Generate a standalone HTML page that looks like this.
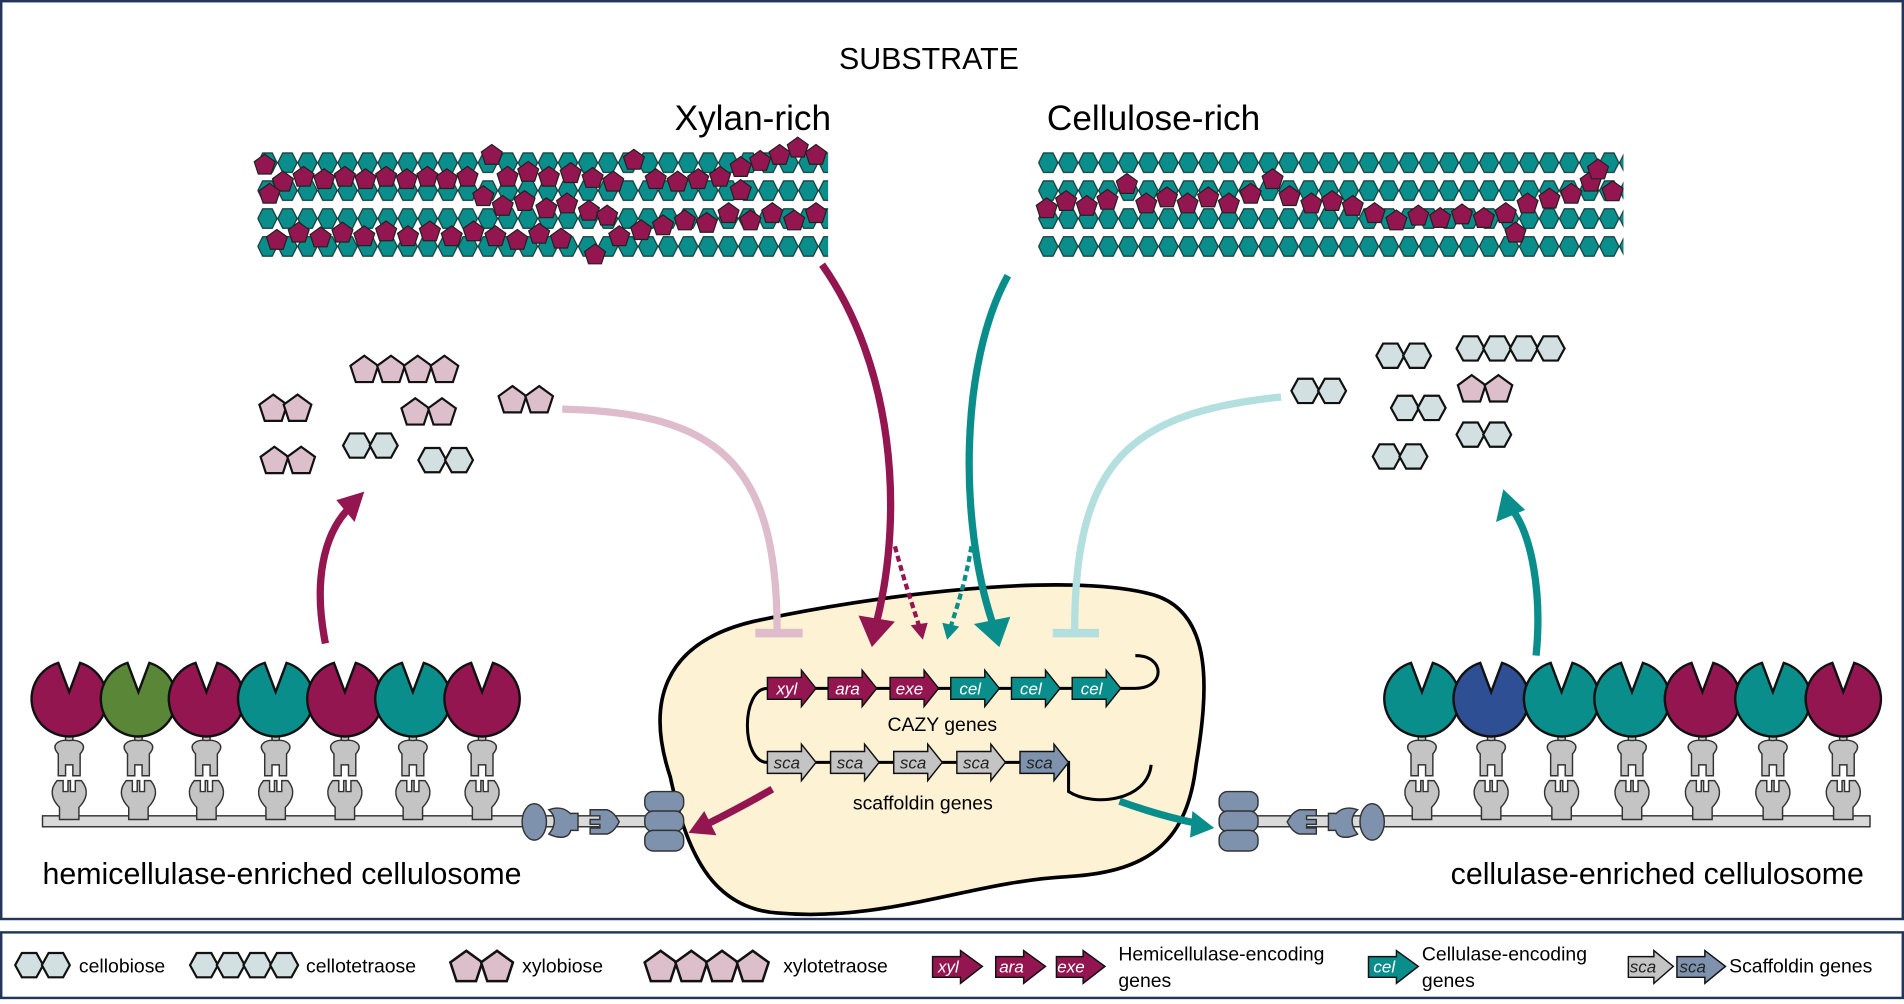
<!DOCTYPE html>
<html><head><meta charset="utf-8"><style>html,body{margin:0;padding:0;background:#fff}svg{display:block}</style></head><body>
<svg width="1904" height="1004" viewBox="0 0 1568 827" preserveAspectRatio="none" xmlns="http://www.w3.org/2000/svg" font-family="Liberation Sans, sans-serif">
<defs>
<pattern id="hx" width="16.5" height="23" patternUnits="userSpaceOnUse" x="212" y="122.5">
<polygon points="0.3,11.5 4.3,3.5 12.2,3.5 16.2,11.5 12.2,19.5 4.3,19.5" fill="#0a8e8c" stroke="#163838" stroke-width="1"/>
</pattern>
<pattern id="hx2" width="16.5" height="23" patternUnits="userSpaceOnUse" x="855" y="122.5">
<polygon points="0.3,11.5 4.3,3.5 12.2,3.5 16.2,11.5 12.2,19.5 4.3,19.5" fill="#0a8e8c" stroke="#163838" stroke-width="1"/>
</pattern>
<polygon id="p" points="0,-9 8.6,-2.8 5.3,7.3 -5.3,7.3 -8.6,-2.8" fill="#931650" stroke="#222" stroke-width="1"/>
<polygon id="lh" points="-11.5,0 -6,-10 6,-10 11.5,0 6,10 -6,10" fill="#d2e0e2" stroke="#111" stroke-width="1.8"/>
<polygon id="lp" points="0,-12 11.4,-3.7 7,9.7 -7,9.7 -11.4,-3.7" fill="#dcbfca" stroke="#111" stroke-width="1.8"/>
<g id="gm">
<rect x="-3" y="0" width="6" height="12" fill="#c4c4c4" stroke="#333" stroke-width="1.2"/>
<path d="M-9,18 C-16,10 -8,6 0,7 C8,6 16,10 9,18 L9,36 L3,36 L3,27 L-3,27 L-3,36 L-9,36 Z" fill="#c4c4c4" stroke="#333" stroke-width="1.2"/>
<path d="M-10,40 L-5,40 L-5,49 L-1,49 L-1,40 L1,40 L1,49 L5,49 L5,40 L10,40 C17,48 14,56 8,62 L8,72 L-8,72 L-8,62 C-14,56 -17,48 -10,40 Z" fill="#c4c4c4" stroke="#333" stroke-width="1.2"/>
</g>
<g id="anc">
<rect x="-16" y="-25" width="32" height="17" rx="7" fill="#7e92ae" stroke="#333" stroke-width="1.2"/>
<rect x="-16" y="-9" width="32" height="17" rx="7" fill="#7e92ae" stroke="#333" stroke-width="1.2"/>
<rect x="-16" y="7" width="32" height="17" rx="7" fill="#7e92ae" stroke="#333" stroke-width="1.2"/>
</g>
</defs>
<rect x="1" y="1" width="1566" height="756" fill="#fff" stroke="#23355a" stroke-width="2"/>
<rect x="1" y="768" width="1566" height="54" fill="#fff" stroke="#23355a" stroke-width="2"/>

<text x="765" y="57" font-size="25" text-anchor="middle">SUBSTRATE</text>
<text x="620" y="107" font-size="29" text-anchor="middle">Xylan-rich</text>
<text x="950" y="107" font-size="29" text-anchor="middle">Cellulose-rich</text>

<rect x="212" y="123" width="470" height="92" fill="url(#hx)"/>
<rect x="855" y="123" width="482" height="92" fill="url(#hx2)"/>
<g>
<use href="#p" x="218" y="136"/><use href="#p" x="233" y="150"/><use href="#p" x="250" y="146"/><use href="#p" x="267" y="148"/><use href="#p" x="284" y="146"/><use href="#p" x="301" y="148"/><use href="#p" x="318" y="146"/><use href="#p" x="335" y="148"/><use href="#p" x="352" y="146"/><use href="#p" x="368" y="148"/><use href="#p" x="385" y="146"/><use href="#p" x="405" y="128"/><use href="#p" x="418" y="146"/><use href="#p" x="435" y="142"/><use href="#p" x="452" y="146"/><use href="#p" x="470" y="143"/><use href="#p" x="488" y="147"/><use href="#p" x="505" y="150"/><use href="#p" x="522" y="132"/><use href="#p" x="540" y="148"/><use href="#p" x="558" y="150"/><use href="#p" x="575" y="148"/><use href="#p" x="593" y="146"/><use href="#p" x="610" y="138"/><use href="#p" x="626" y="133"/><use href="#p" x="642" y="128"/><use href="#p" x="657" y="122"/><use href="#p" x="672" y="128"/><use href="#p" x="610" y="157"/>
<use href="#p" x="222" y="160"/><use href="#p" x="398" y="162"/><use href="#p" x="414" y="170"/><use href="#p" x="432" y="166"/><use href="#p" x="450" y="172"/><use href="#p" x="467" y="168"/><use href="#p" x="485" y="174"/><use href="#p" x="500" y="178"/><use href="#p" x="490" y="210"/><use href="#p" x="510" y="195"/>
<use href="#p" x="228" y="198"/><use href="#p" x="246" y="192"/><use href="#p" x="264" y="196"/><use href="#p" x="282" y="192"/><use href="#p" x="300" y="195"/><use href="#p" x="318" y="191"/><use href="#p" x="336" y="195"/><use href="#p" x="354" y="191"/><use href="#p" x="372" y="195"/><use href="#p" x="390" y="191"/><use href="#p" x="408" y="195"/><use href="#p" x="426" y="198"/><use href="#p" x="444" y="193"/><use href="#p" x="462" y="197"/><use href="#p" x="528" y="190"/><use href="#p" x="546" y="186"/><use href="#p" x="564" y="182"/><use href="#p" x="582" y="184"/><use href="#p" x="600" y="176"/><use href="#p" x="618" y="182"/><use href="#p" x="636" y="176"/><use href="#p" x="654" y="182"/><use href="#p" x="672" y="176"/>
</g>
<g>
<use href="#p" x="862" y="172"/><use href="#p" x="878" y="166"/><use href="#p" x="895" y="170"/><use href="#p" x="912" y="165"/><use href="#p" x="928" y="152"/><use href="#p" x="944" y="168"/><use href="#p" x="961" y="163"/><use href="#p" x="978" y="168"/><use href="#p" x="995" y="163"/><use href="#p" x="1012" y="168"/><use href="#p" x="1030" y="160"/><use href="#p" x="1048" y="148"/><use href="#p" x="1062" y="162"/><use href="#p" x="1080" y="168"/><use href="#p" x="1097" y="166"/><use href="#p" x="1114" y="170"/><use href="#p" x="1132" y="176"/><use href="#p" x="1150" y="182"/><use href="#p" x="1168" y="178"/><use href="#p" x="1186" y="180"/><use href="#p" x="1204" y="177"/><use href="#p" x="1222" y="180"/><use href="#p" x="1240" y="176"/><use href="#p" x="1248" y="192"/><use href="#p" x="1258" y="168"/><use href="#p" x="1276" y="164"/><use href="#p" x="1294" y="160"/><use href="#p" x="1310" y="150"/><use href="#p" x="1328" y="158"/><use href="#p" x="1316" y="140"/>
</g>

<path d="M552,640 C532,580 545,530 620,512 C720,490 880,470 950,490 C1000,505 995,570 985,630 C978,690 950,718 880,722 C800,726 730,760 640,752 C585,748 565,700 552,640 Z" fill="#fdf2d4" stroke="#000" stroke-width="3"/>

<path d="M463,337 C590,340 640,380 640,520" fill="none" stroke="#dfbccb" stroke-width="6"/>
<rect x="622" y="518" width="39" height="7" fill="#dfbccb"/>
<path d="M1055,327 C930,340 885,380 885,520" fill="none" stroke="#b3e0de" stroke-width="6"/>
<rect x="867" y="518" width="38" height="7" fill="#b3e0de"/>

<path d="M677,218 C735,300 745,420 722,512" fill="none" stroke="#931650" stroke-width="6"/>
<polygon points="707,507 737,512 718,533" fill="#931650"/>
<path d="M737,450 C745,480 752,500 757,516" fill="none" stroke="#931650" stroke-width="3.5" stroke-dasharray="5,3"/>
<polygon points="750,515 764,513 760,527" fill="#931650"/>
<path d="M830,227 C790,300 790,430 817,512" fill="none" stroke="#0a8e8c" stroke-width="6"/>
<polygon points="802,514 832,508 823,533" fill="#0a8e8c"/>
<path d="M800,450 C795,480 788,500 783,516" fill="none" stroke="#0a8e8c" stroke-width="3.5" stroke-dasharray="5,3"/>
<polygon points="776,513 790,516 780,527" fill="#0a8e8c"/>

<path d="M268,530 C258,480 266,440 288,418" fill="none" stroke="#931650" stroke-width="6"/>
<polygon points="277,412 300,405 292,430" fill="#931650"/>
<path d="M1265,540 C1270,490 1262,440 1244,418" fill="none" stroke="#0a8e8c" stroke-width="6"/>
<polygon points="1232,430 1238,403 1256,420" fill="#0a8e8c"/>
<path d="M636,650 C610,665 590,675 580,680" fill="none" stroke="#931650" stroke-width="6"/>
<polygon points="567,686 580,668 590,688" fill="#931650"/>
<path d="M922,660 C950,670 970,675 985,678" fill="none" stroke="#0a8e8c" stroke-width="6"/>
<polygon points="1000,682 982,668 980,690" fill="#0a8e8c"/>

<path d="M632,567 L935,567 C960,567 960,540 935,540" fill="none" stroke="#000" stroke-width="2.5"/>
<path d="M632,567 C610,567 610,628 632,628 L880,628 L880,652 C900,665 945,660 948,630" fill="none" stroke="#000" stroke-width="2.5"/>
<g font-style="italic" font-size="14" text-anchor="middle">
<g fill="#931650" stroke="#111" stroke-width="1.2">
<polygon points="632,558 660,558 660,552 672,567 660,582 660,576 632,576"/>
<polygon points="682,558 710,558 710,552 722,567 710,582 710,576 682,576"/>
<polygon points="733,558 761,558 761,552 773,567 761,582 761,576 733,576"/>
</g>
<g fill="#0a8e8c" stroke="#111" stroke-width="1.2">
<polygon points="783,558 811,558 811,552 823,567 811,582 811,576 783,576"/>
<polygon points="833,558 861,558 861,552 873,567 861,582 861,576 833,576"/>
<polygon points="883,558 911,558 911,552 923,567 911,582 911,576 883,576"/>
</g>
<g fill="#fff"><text x="648" y="572">xyl</text><text x="698" y="572">ara</text><text x="749" y="572">exe</text><text x="799" y="572">cel</text><text x="849" y="572">cel</text><text x="899" y="572">cel</text></g>
<g fill="#c4c4c4" stroke="#111" stroke-width="1.2">
<polygon points="632,619 660,619 660,613 672,628 660,643 660,637 632,637"/>
<polygon points="684,619 712,619 712,613 724,628 712,643 712,637 684,637"/>
<polygon points="736,619 764,619 764,613 776,628 764,643 764,637 736,637"/>
<polygon points="788,619 816,619 816,613 828,628 816,643 816,637 788,637"/>
</g>
<polygon points="840,619 868,619 868,613 880,628 868,643 868,637 840,637" fill="#7e92ae" stroke="#111" stroke-width="1.2"/>
<g fill="#222"><text x="648" y="633">sca</text><text x="700" y="633">sca</text><text x="752" y="633">sca</text><text x="804" y="633">sca</text><text x="856" y="633">sca</text></g>
</g>
<text x="776" y="602" font-size="16" text-anchor="middle">CAZY genes</text>
<text x="760" y="667" font-size="16" text-anchor="middle">scaffoldin genes</text>

<rect x="35" y="672" width="505" height="9" fill="#dadada" stroke="#333" stroke-width="1.2"/>
<g transform="translate(0,603)">
<use href="#gm" x="57"/><use href="#gm" x="114"/><use href="#gm" x="170"/><use href="#gm" x="227"/><use href="#gm" x="284"/><use href="#gm" x="340"/><use href="#gm" x="397"/>
</g>
<g stroke="#111" stroke-width="2">
<path d="M66,546 A31,31 0 1 1 48,546 L57,570 Z" fill="#931650"/>
<path d="M123,546 A31,31 0 1 1 105,546 L114,570 Z" fill="#5a8638"/>
<path d="M179,546 A31,31 0 1 1 161,546 L170,570 Z" fill="#931650"/>
<path d="M236,546 A31,31 0 1 1 218,546 L227,570 Z" fill="#0a8e8c"/>
<path d="M293,546 A31,31 0 1 1 275,546 L284,570 Z" fill="#931650"/>
<path d="M349,546 A31,31 0 1 1 331,546 L340,570 Z" fill="#0a8e8c"/>
<path d="M406,546 A31,31 0 1 1 388,546 L397,570 Z" fill="#931650"/>
</g>
<g fill="#7e92ae" stroke="#333" stroke-width="1.2">
<ellipse cx="440" cy="677" rx="10" ry="15"/>
<path d="M452,667 C466,662 470,672 470,670 L476,670 L476,684 L470,684 C468,692 458,690 452,687 C458,680 458,672 452,667 Z"/>
<path d="M500,667 L486,667 L486,672 L494,672 L494,675 L486,675 L486,679 L494,679 L494,682 L486,682 L486,687 L500,687 C506,685 508,680 510,677 C508,674 506,669 500,667 Z"/>
</g>
<use href="#anc" x="547" y="677"/>
<text x="35" y="728" font-size="25">hemicellulase-enriched cellulosome</text>

<rect x="1030" y="672" width="510" height="9" fill="#dadada" stroke="#333" stroke-width="1.2"/>
<g transform="translate(0,603)">
<use href="#gm" x="1171"/><use href="#gm" x="1228"/><use href="#gm" x="1286"/><use href="#gm" x="1344"/><use href="#gm" x="1402"/><use href="#gm" x="1460"/><use href="#gm" x="1518"/>
</g>
<g stroke="#111" stroke-width="2">
<path d="M1180,546 A31,31 0 1 1 1162,546 L1171,570 Z" fill="#0a8e8c"/>
<path d="M1237,546 A31,31 0 1 1 1219,546 L1228,570 Z" fill="#2e4f94"/>
<path d="M1295,546 A31,31 0 1 1 1277,546 L1286,570 Z" fill="#0a8e8c"/>
<path d="M1353,546 A31,31 0 1 1 1335,546 L1344,570 Z" fill="#0a8e8c"/>
<path d="M1411,546 A31,31 0 1 1 1393,546 L1402,570 Z" fill="#931650"/>
<path d="M1469,546 A31,31 0 1 1 1451,546 L1460,570 Z" fill="#0a8e8c"/>
<path d="M1527,546 A31,31 0 1 1 1509,546 L1518,570 Z" fill="#931650"/>
</g>
<g fill="#7e92ae" stroke="#333" stroke-width="1.2" transform="translate(1570,0) scale(-1,1)">
<ellipse cx="440" cy="677" rx="10" ry="15"/>
<path d="M452,667 C466,662 470,672 470,670 L476,670 L476,684 L470,684 C468,692 458,690 452,687 C458,680 458,672 452,667 Z"/>
<path d="M500,667 L486,667 L486,672 L494,672 L494,675 L486,675 L486,679 L494,679 L494,682 L486,682 L486,687 L500,687 C506,685 508,680 510,677 C508,674 506,669 500,667 Z"/>
</g>
<use href="#anc" x="1020" y="677"/>
<text x="1535" y="728" font-size="25" text-anchor="end">cellulase-enriched cellulosome</text>

<use href="#lp" x="225" y="337"/><use href="#lp" x="245" y="337"/>
<use href="#lp" x="300" y="305"/><use href="#lp" x="322" y="305"/><use href="#lp" x="344" y="305"/><use href="#lp" x="366" y="305"/>
<use href="#lp" x="342" y="340"/><use href="#lp" x="364" y="340"/>
<use href="#lp" x="422" y="330"/><use href="#lp" x="444" y="330"/>
<use href="#lp" x="226" y="380"/><use href="#lp" x="248" y="380"/>
<use href="#lh" x="294" y="367"/><use href="#lh" x="316" y="367"/>
<use href="#lh" x="356" y="379"/><use href="#lh" x="378" y="379"/>
<use href="#lh" x="1075" y="322"/><use href="#lh" x="1097" y="322"/>
<use href="#lh" x="1145" y="293"/><use href="#lh" x="1167" y="293"/>
<use href="#lh" x="1211" y="287"/><use href="#lh" x="1233" y="287"/><use href="#lh" x="1255" y="287"/><use href="#lh" x="1277" y="287"/>
<use href="#lh" x="1157" y="336"/><use href="#lh" x="1179" y="336"/>
<use href="#lp" x="1212" y="321"/><use href="#lp" x="1234" y="321"/>
<use href="#lh" x="1211" y="358"/><use href="#lh" x="1233" y="358"/>
<use href="#lh" x="1142" y="376"/><use href="#lh" x="1164" y="376"/>

<!-- legend -->
<use href="#lh" x="24" y="795"/><use href="#lh" x="46" y="795"/>
<text x="65" y="801" font-size="16">cellobiose</text>
<use href="#lh" x="168" y="795"/><use href="#lh" x="190" y="795"/><use href="#lh" x="212" y="795"/><use href="#lh" x="234" y="795"/>
<text x="252" y="801" font-size="16">cellotetraose</text>
<g transform="translate(384,797) scale(1.15)"><use href="#lp" x="0" y="0"/><use href="#lp" x="22" y="0"/></g>
<text x="430" y="801" font-size="16">xylobiose</text>
<g transform="translate(544,797) scale(1.15)"><use href="#lp" x="0" y="0"/><use href="#lp" x="22" y="0"/><use href="#lp" x="44" y="0"/><use href="#lp" x="66" y="0"/></g>
<text x="645" y="801" font-size="16">xylotetraose</text>
<g stroke="#111" stroke-width="1.2">
<polygon points="768,788 791,788 791,783 809,796 791,810 791,805 768,805" fill="#931650"/>
<polygon points="820,788 843,788 843,783 861,796 843,810 843,805 820,805" fill="#931650"/>
<polygon points="870,788 892,788 892,783 910,796 892,810 892,805 870,805" fill="#931650"/>
<polygon points="1127,788 1150,788 1150,783 1168,796 1150,810 1150,805 1127,805" fill="#0a8e8c"/>
<polygon points="1341,788 1362,788 1362,783 1378,796 1362,810 1362,805 1341,805" fill="#c4c4c4"/>
<polygon points="1381,788 1404,788 1404,783 1421,796 1404,810 1404,805 1381,805" fill="#7e92ae"/>
</g>
<g font-style="italic" font-size="14" text-anchor="middle">
<text x="781" y="801" fill="#fff">xyl</text><text x="833" y="801" fill="#fff">ara</text><text x="882" y="801" fill="#fff">exe</text><text x="1140" y="801" fill="#fff">cel</text>
<text x="1353" y="801" fill="#222">sca</text><text x="1394" y="801" fill="#222">sca</text>
</g>
<text x="921" y="791" font-size="16">Hemicellulase-encoding</text>
<text x="921" y="813" font-size="16">genes</text>
<text x="1171" y="791" font-size="16">Cellulase-encoding</text>
<text x="1171" y="813" font-size="16">genes</text>
<text x="1424" y="801" font-size="16">Scaffoldin genes</text>
</svg>
</body></html>
